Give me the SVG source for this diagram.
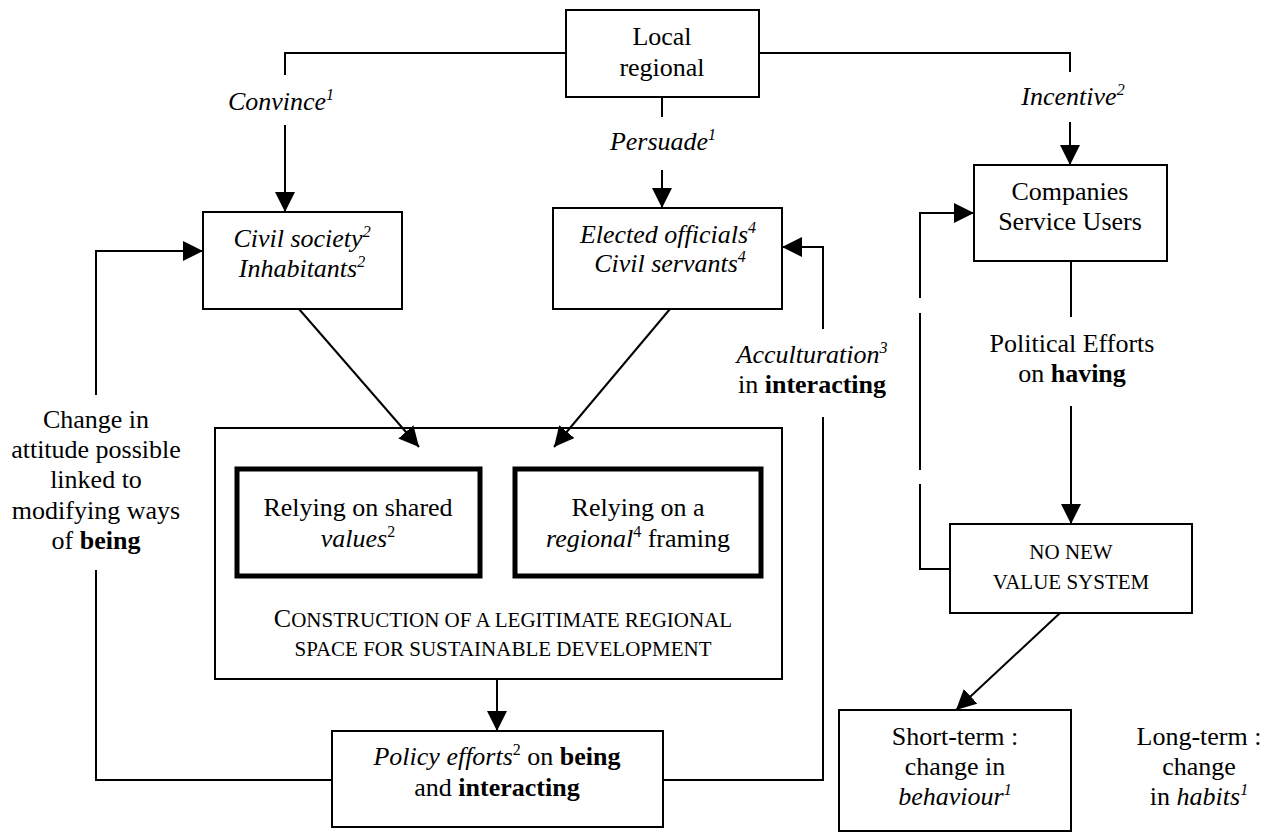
<svg xmlns="http://www.w3.org/2000/svg" width="1273" height="833" viewBox="0 0 1273 833">
<defs>
<marker id="arr" markerUnits="userSpaceOnUse" markerWidth="20" markerHeight="20" refX="20" refY="10" orient="auto">
<path d="M0,0 L20,10 L0,20 z" fill="#000"/>
</marker>
</defs>
<rect width="1273" height="833" fill="#fff"/>
<g id="connectors" fill="none" stroke="#000" stroke-width="2">
<polyline points="566,53 285,53 285,75"/>
<line x1="285" y1="125" x2="285" y2="212" marker-end="url(#arr)"/>
<line x1="662" y1="97" x2="662" y2="117"/>
<line x1="662" y1="170" x2="662" y2="208" marker-end="url(#arr)"/>
<polyline points="759,53 1070,53 1070,72"/>
<line x1="1070" y1="122" x2="1070" y2="165" marker-end="url(#arr)"/>
<line x1="299" y1="309" x2="419" y2="447" marker-end="url(#arr)"/>
<line x1="670" y1="309" x2="554" y2="447" marker-end="url(#arr)"/>
<line x1="497" y1="679" x2="497" y2="731" marker-end="url(#arr)"/>
<polyline points="332,780 96,780 96,570"/>
<polyline points="96,395 96,251 203,251" marker-end="url(#arr)"/>
<polyline points="663,780 823,780 823,417"/>
<polyline points="823,329 823,247 782,247" marker-end="url(#arr)"/>
<line x1="1071" y1="261" x2="1071" y2="317"/>
<line x1="1071" y1="406" x2="1071" y2="524" marker-end="url(#arr)"/>
<polyline points="950,569 920,569 920,484"/>
<line x1="920" y1="470" x2="920" y2="313"/>
<polyline points="920,298 920,213 974,213" marker-end="url(#arr)"/>
<line x1="1060" y1="613" x2="956" y2="710" marker-end="url(#arr)"/>
</g>
<g id="labels" fill="#000" stroke="none" font-family="Liberation Serif, serif" font-size="26" text-anchor="middle">
<text font-family="Liberation Serif, serif" font-style="italic" x="281" y="110">Convince<tspan font-size="16" dy="-10">1</tspan></text>
<text font-family="Liberation Serif, serif" font-style="italic" x="663" y="150">Persuade<tspan font-size="16" dy="-10">1</tspan></text>
<text font-family="Liberation Serif, serif" font-style="italic" x="1073" y="105">Incentive<tspan font-size="16" dy="-10">2</tspan></text>
<text font-family="Liberation Serif, serif" x="96" y="428">Change in</text>
<text font-family="Liberation Serif, serif" x="96" y="458">attitude possible</text>
<text font-family="Liberation Serif, serif" x="96" y="488">linked to</text>
<text font-family="Liberation Serif, serif" x="96" y="519">modifying ways</text>
<text font-family="Liberation Serif, serif" x="96" y="549">of <tspan font-weight="bold">being</tspan></text>
<text font-family="Liberation Serif, serif" x="812" y="363" font-style="italic">Acculturation<tspan font-size="16" dy="-10">3</tspan></text>
<text font-family="Liberation Serif, serif" x="812" y="393">in <tspan font-weight="bold">interacting</tspan></text>
<text font-family="Liberation Serif, serif" x="1072" y="352">Political Efforts</text>
<text font-family="Liberation Serif, serif" x="1072" y="382">on <tspan font-weight="bold">having</tspan></text>
</g>

<g id="local-regional" font-family="Liberation Serif, serif" font-size="26" text-anchor="middle">
<rect x="566" y="10" width="193" height="87" fill="none" stroke="#000" stroke-width="2"/>
<text font-family="Liberation Serif, serif" x="662" y="45">Local</text>
<text font-family="Liberation Serif, serif" x="662" y="76">regional</text>
</g>

<g id="civil-society" font-family="Liberation Serif, serif" font-size="26" text-anchor="middle">
<rect x="203" y="212" width="199" height="97" fill="none" stroke="#000" stroke-width="2"/>
<text font-family="Liberation Serif, serif" font-style="italic" x="302" y="247">Civil society<tspan font-size="16" dy="-10">2</tspan></text>
<text font-family="Liberation Serif, serif" font-style="italic" x="302" y="277">Inhabitants<tspan font-size="16" dy="-10">2</tspan></text>
</g>

<g id="elected-officials" font-family="Liberation Serif, serif" font-size="26" text-anchor="middle">
<rect x="553" y="208" width="229" height="101" fill="none" stroke="#000" stroke-width="2"/>
<text font-family="Liberation Serif, serif" font-style="italic" x="668" y="243">Elected officials<tspan font-size="16" dy="-10">4</tspan></text>
<text font-family="Liberation Serif, serif" font-style="italic" x="670" y="272">Civil servants<tspan font-size="16" dy="-10">4</tspan></text>
</g>

<g id="companies" font-family="Liberation Serif, serif" font-size="26" text-anchor="middle">
<rect x="974" y="165" width="193" height="96" fill="none" stroke="#000" stroke-width="2"/>
<text font-family="Liberation Serif, serif" x="1070" y="200">Companies</text>
<text font-family="Liberation Serif, serif" x="1070" y="230">Service Users</text>
</g>

<g id="construction" font-family="Liberation Serif, serif" font-size="26" text-anchor="middle">
<rect x="215" y="428" width="567" height="251" fill="none" stroke="#000" stroke-width="2"/>
<text font-family="Liberation Serif, serif" x="503" y="627">C<tspan font-size="21">ONSTRUCTION OF A LEGITIMATE REGIONAL</tspan></text>
<text font-family="Liberation Serif, serif" font-size="21" x="503" y="656">SPACE FOR SUSTAINABLE DEVELOPMENT</text>
</g>

<g id="shared-values" font-family="Liberation Serif, serif" font-size="26" text-anchor="middle">
<rect x="237" y="469" width="243" height="107" fill="none" stroke="#000" stroke-width="5"/>
<text font-family="Liberation Serif, serif" x="358" y="516">Relying on shared</text>
<text font-family="Liberation Serif, serif" x="358" y="547"><tspan font-style="italic">values</tspan><tspan font-size="16" dy="-10">2</tspan></text>
</g>

<g id="regional-framing" font-family="Liberation Serif, serif" font-size="26" text-anchor="middle">
<rect x="515" y="469" width="246" height="107" fill="none" stroke="#000" stroke-width="5"/>
<text font-family="Liberation Serif, serif" x="638" y="516">Relying on a</text>
<text font-family="Liberation Serif, serif" x="638" y="547"><tspan font-style="italic">regional</tspan><tspan font-size="16" dy="-10">4</tspan><tspan dy="10"> framing</tspan></text>
</g>

<g id="policy-efforts" font-family="Liberation Serif, serif" font-size="26" text-anchor="middle">
<rect x="332" y="731" width="331" height="96" fill="none" stroke="#000" stroke-width="2"/>
<text font-family="Liberation Serif, serif" x="497" y="765"><tspan font-style="italic">Policy efforts</tspan><tspan font-size="16" dy="-10">2</tspan><tspan dy="10"> on </tspan><tspan font-weight="bold">being</tspan></text>
<text font-family="Liberation Serif, serif" x="497" y="796">and <tspan font-weight="bold">interacting</tspan></text>
</g>

<g id="no-new-value-system" font-family="Liberation Serif, serif" font-size="21" text-anchor="middle">
<rect x="950" y="524" width="242" height="89" fill="none" stroke="#000" stroke-width="2"/>
<text font-family="Liberation Serif, serif" x="1071" y="559">NO NEW</text>
<text font-family="Liberation Serif, serif" x="1071" y="589">VALUE SYSTEM</text>
</g>

<g id="short-term" font-family="Liberation Serif, serif" font-size="26" text-anchor="middle">
<rect x="839" y="710" width="232" height="121" fill="none" stroke="#000" stroke-width="2"/>
<text font-family="Liberation Serif, serif" x="955" y="745">Short-term :</text>
<text font-family="Liberation Serif, serif" x="955" y="775">change in</text>
<text font-family="Liberation Serif, serif" font-style="italic" x="955" y="805">behaviour<tspan font-size="16" dy="-10">1</tspan></text>
</g>

<g id="long-term" font-family="Liberation Serif, serif" font-size="26" text-anchor="middle">
<text font-family="Liberation Serif, serif" x="1199" y="745">Long-term :</text>
<text font-family="Liberation Serif, serif" x="1199" y="775">change</text>
<text font-family="Liberation Serif, serif" x="1199" y="805">in <tspan font-style="italic">habits</tspan><tspan font-style="italic" font-size="16" dy="-10">1</tspan></text>
</g>
</svg>
